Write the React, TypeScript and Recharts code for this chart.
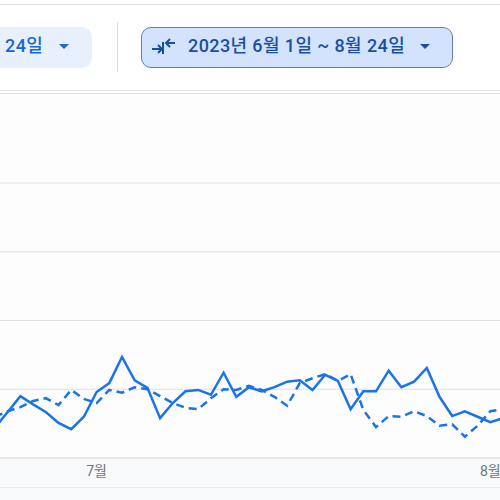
import { LineChart, Line, XAxis, YAxis, CartesianGrid } from "recharts";

// visible window: 6/23 ~ 8/2
const startDay = new Date(2023, 5, 23);
const current = [
  44, 67, 90, 78, 67, 51, 42, 60, 96, 109, 147, 113, 102, 58, 80, 97, 99, 92, 124, 89, 103,
  97, 103, 111, 113, 99, 121, 112, 71, 97, 97, 127, 103, 111, 131, 89, 61, 68, 60, 52, 58,
];
const previous = [
  60, 68, 74, 83, 87, 77, 99, 86, 80, 99, 95, 103, 100, 90, 80, 73, 71, 87, 100, 99, 105,
  99, 89, 76, 109, 116, 122, 112, 122, 70, 45, 61, 60, 68, 61, 47, 49, 31, 47, 68, 71,
];
const yTicks = [0, 100, 200, 300, 400];

const dates = current.map((_, i) => {
  const d = new Date(startDay);
  d.setDate(d.getDate() + i);
  return `${d.getMonth() + 1}-${d.getDate()}`;
});

const data = dates.map((date, i) => ({ date, current: current[i], previous: previous[i] }));

const BLUE = "#1a73e8";

function monthLabel(v: string) {
  const [m, d] = v.split("-");
  return d === "1" ? `${m}월` : "";
}

function Caret({ x, color }: { x: number; color: string }) {
  return (
    <svg style={{ position: "absolute", left: x, top: 43 }} width={12} height={7}>
      <path d="M1 1 L11 1 L6 6 Z" fill={color} />
    </svg>
  );
}

export default function App() {
  return (
    <div
      style={{
        position: "fixed",
        left: 0,
        top: 0,
        width: 500,
        height: 500,
        overflow: "hidden",
        background: "#fff",
        fontFamily: "Roboto, 'Noto Sans CJK KR', sans-serif",
      }}
    >
      <div style={{ position: "absolute", left: 0, top: 4, width: 500, height: 1, background: "#e3e3e3" }} />

      {/* date range buttons */}
      <div
        style={{
          position: "absolute", left: -20, top: 27, width: 112, height: 41,
          background: "#e8f0fe", borderRadius: 10,
        }}
      />
      <div style={{ position: "absolute", left: 5, top: 36, fontSize: 18, lineHeight: "20px", fontWeight: 500, letterSpacing: 0.4, color: "#1967d2" }}>
        24일
      </div>
      <Caret x={58} color="#1967d2" />
      <div style={{ position: "absolute", left: 117, top: 22, width: 1, height: 50, background: "#dadce0" }} />
      <div
        style={{
          position: "absolute", left: 141, top: 27, width: 310, height: 39,
          background: "#d3e3fd", border: "1px solid #5b7fc7", borderRadius: 10,
        }}
      />
      <svg style={{ position: "absolute", left: 151, top: 37 }} width={26} height={18}>
        <path d="M1 12 L11 12 M7 8 L11 12 L7 16" stroke="#1a4fa0" strokeWidth={2} fill="none" />
        <path d="M12 5 L12 17" stroke="#1a4fa0" strokeWidth={2} />
        <path d="M24 6 L15 6 M19 2 L15 6 L19 10" stroke="#1a4fa0" strokeWidth={2} fill="none" />
      </svg>
      <div style={{ position: "absolute", left: 188, top: 36, fontSize: 18, lineHeight: "20px", fontWeight: 500, letterSpacing: 0.4, color: "#1a4fa0", whiteSpace: "nowrap" }}>
        2023년 6월 1일 ~ 8월 24일
      </div>
      <Caret x={419} color="#1a4fa0" />

      <div style={{ position: "absolute", left: 0, top: 90, width: 500, height: 1, background: "#e3e5e8" }} />
      <div style={{ position: "absolute", left: 0, top: 93, width: 500, height: 365, background: "#fdfdfd", borderTop: "1px solid #dadce0" }} />
      <div style={{ position: "absolute", left: 0, top: 459, width: 500, height: 41, background: "#f8f9fa" }} />
      <div style={{ position: "absolute", left: 0, top: 487, width: 500, height: 1, background: "#e8eaed" }} />

      <div style={{ position: "absolute", left: -5, top: 178 }}>
        <LineChart width={508} height={310} data={data} margin={{ top: 5, right: 0, bottom: 0, left: 0 }}>
          <CartesianGrid vertical={false} stroke="#e0e0e0" />
          <XAxis
            dataKey="date"
            scale="point"
            interval={0}
            height={30}
            tickLine={false}
            axisLine={{ stroke: "#dadce0" }}
            tick={{ fontSize: 14, fill: "#70757a" }}
            tickFormatter={monthLabel}
          />
          <YAxis hide domain={[0, 400]} ticks={yTicks} />
          <Line
            type="linear"
            dataKey="previous"
            stroke={BLUE}
            strokeWidth={2.5}
            strokeDasharray="8 5"
            dot={false}
            isAnimationActive={false}
          />
          <Line type="linear" dataKey="current" stroke={BLUE} strokeWidth={2.5} dot={false} isAnimationActive={false} />
        </LineChart>
      </div>
    </div>
  );
}
